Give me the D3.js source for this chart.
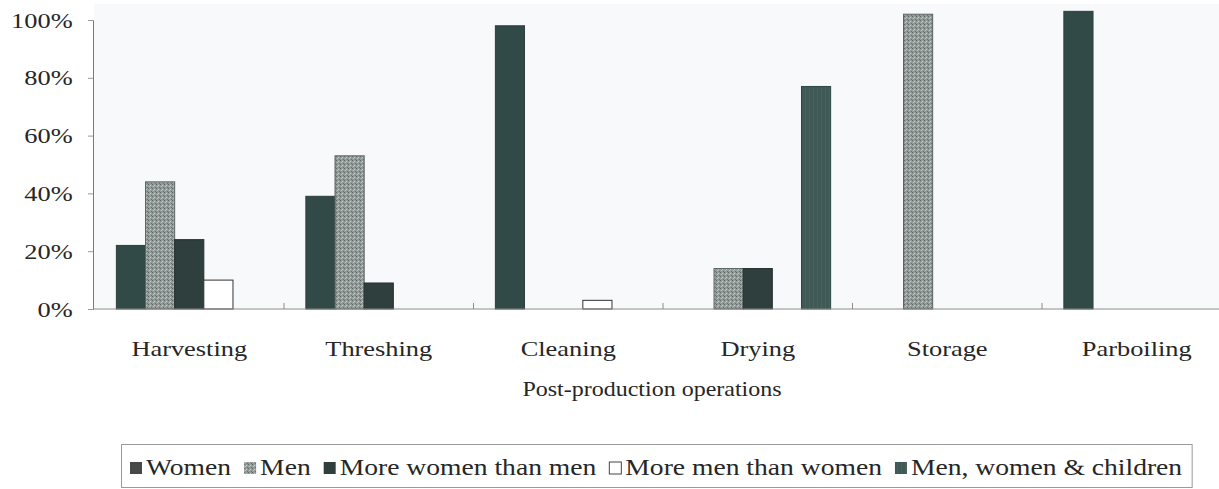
<!DOCTYPE html>
<html>
<head>
<meta charset="utf-8">
<script src="https://cdn.jsdelivr.net/npm/d3@7"></script>
<style>
    html, body { margin: 0; padding: 0; background: #ffffff; }
    svg { display: block; }
    text { font-family: "Liberation Serif", Times, "Times New Roman", serif; fill: #262626; }
</style>
</head>
<body>
<svg id="svg"></svg>
<script>
// data (percent)
const categories = ["Harvesting", "Threshing", "Cleaning", "Drying", "Storage", "Parboiling"];
const seriesNames = ["Women", "Men", "More women than men", "More men than women", "Men, women & children"];
const women = [22, 39, 98, 0, 0, 103];
const men = [44, 53, 0, 14, 102, 0];
const moreWomen = [24, 9, 0, 14, 0, 0];
const moreMen = [10, 0, 3, 0, 0, 0];
const menWomenChildren = [0, 0, 0, 77, 0, 0];
const yTicks = [0, 20, 40, 60, 80, 100];

const seriesValues = [women, men, moreWomen, moreMen, menWomenChildren];

const width = 1219;
const height = 489;
const stretch = 1.2;   // the scanned text is wider than it is tall

let svg = d3.select("#svg")
    .attr("width", width)
    .attr("height", height);

// fills: plain, speckled and hatched like the scan
let defs = svg.append("defs");

let speck = defs.append("pattern")
    .attr("id", "men-fill")
    .attr("width", 4).attr("height", 4)
    .attr("patternUnits", "userSpaceOnUse");
speck.append("rect").attr("width", 4).attr("height", 4).attr("fill", "#939b99");
speck.append("rect").attr("x", 0).attr("y", 0).attr("width", 1).attr("height", 1).attr("fill", "#5f6866");
speck.append("rect").attr("x", 2).attr("y", 1).attr("width", 1).attr("height", 1).attr("fill", "#c8cdcb");
speck.append("rect").attr("x", 1).attr("y", 2).attr("width", 1).attr("height", 1).attr("fill", "#b8bebc");
speck.append("rect").attr("x", 3).attr("y", 3).attr("width", 1).attr("height", 1).attr("fill", "#6a7371");

let hatch = defs.append("pattern")
    .attr("id", "mwc-fill")
    .attr("width", 4).attr("height", 4)
    .attr("patternUnits", "userSpaceOnUse");
hatch.append("rect").attr("width", 4).attr("height", 4).attr("fill", "#3f5a56");
hatch.append("rect").attr("x", 1).attr("y", 0).attr("width", 1).attr("height", 4).attr("fill", "#46625e");

const fills = ["#324a47", "url(#men-fill)", "#2f3f3d", "#ffffff", "url(#mwc-fill)"];
const strokes = ["#2c3e3b", "#5b6462", "#26302f", "#333333", "#2f4643"];

// plot area
const axisX = 93;
const y0 = 309;
const y100 = 20;

svg.append("rect")
    .attr("x", axisX + 1).attr("y", 4)
    .attr("width", width - axisX).attr("height", y0 - 4)
    .attr("fill", "#f8f9fa");

let x0 = d3.scaleBand()
    .domain(categories)
    .range([94.5, 1231.5])
    .padding(0);

let x1 = d3.scaleBand()
    .domain(seriesNames)
    .range([0, x0.bandwidth()])
    .paddingInner(0)
    .paddingOuter(0.75);

let yScale = d3.scaleLinear()
    .domain([0, 100])
    .range([y0, y100]);

// bars
let rows = [];
categories.forEach((c, ci) => {
    seriesNames.forEach((s, si) => {
        rows.push({ cat: c, series: s, si: si, value: seriesValues[si][ci] });
    });
});

svg.append("g")
    .selectAll("rect")
    .data(rows.filter(d => d.value > 0))
    .join("rect")
        .attr("x", d => x0(d.cat) + x1(d.series))
        .attr("y", d => yScale(d.value))
        .attr("width", x1.bandwidth())
        .attr("height", d => yScale(0) - yScale(d.value))
        .attr("fill", d => fills[d.si])
        .attr("stroke", d => strokes[d.si])
        .attr("stroke-width", 1);

// y-axis
let yAxis = svg.append("g")
    .attr("transform", `translate(${axisX},0)`)
    .call(d3.axisLeft(yScale)
        .tickValues(yTicks)
        .tickFormat(d => d + "%")
        .tickSize(5)
        .tickPadding(12));
yAxis.attr("font-family", null);
yAxis.select(".domain").attr("stroke", "#7a7a7a");
yAxis.selectAll(".tick line").attr("stroke", "#9a9a9a");
yAxis.selectAll(".tick text")
    .attr("font-size", 22)
    .attr("fill", "#262626")
    .attr("transform", `scale(${stretch},1)`);

// x-axis line and group separators
svg.append("line")
    .attr("x1", axisX).attr("x2", width)
    .attr("y1", y0).attr("y2", y0)
    .attr("stroke", "#8c8c8c");

svg.append("g")
    .selectAll("line")
    .data(categories.slice(1))
    .join("line")
        .attr("x1", d => x0(d)).attr("x2", d => x0(d))
        .attr("y1", y0).attr("y2", y0 - 6)
        .attr("stroke", "#8c8c8c");

function stretchedText(parent, x, y, label, size, anchor) {
    let g = parent.append("g").attr("transform", `translate(${x},${y}) scale(${stretch},1)`);
    return g.append("text")
        .attr("text-anchor", anchor)
        .attr("font-size", size)
        .text(label);
}

// category labels
categories.forEach(c => {
    stretchedText(svg, x0(c) + x0.bandwidth() / 2, 356, c, 22, "middle");
});

// axis title
stretchedText(svg, 652, 396, "Post-production operations", 20, "middle");

// legend
let legend = svg.append("g");
let legendX = 130;
const legendBase = 475;
const iconSize = 12;

seriesNames.forEach((s, i) => {
    legend.append("rect")
        .attr("x", legendX)
        .attr("y", legendBase - iconSize - 1)
        .attr("width", iconSize).attr("height", iconSize)
        .attr("fill", i === 0 ? "#454a49" : fills[i])
        .attr("stroke", i === 3 ? "#444" : "none");
    let t = stretchedText(legend, legendX + iconSize + 4, legendBase, s, 23, "start");
    legendX += iconSize + 4 + t.node().getComputedTextLength() * stretch + 13;
});

legend.insert("rect", ":first-child")
    .attr("x", 121.5).attr("y", 444.5)
    .attr("width", legendX - 13 + 10 - 121.5).attr("height", 43)
    .attr("fill", "#ffffff")
    .attr("stroke", "#9a9a9a");
</script>
</body>
</html>
